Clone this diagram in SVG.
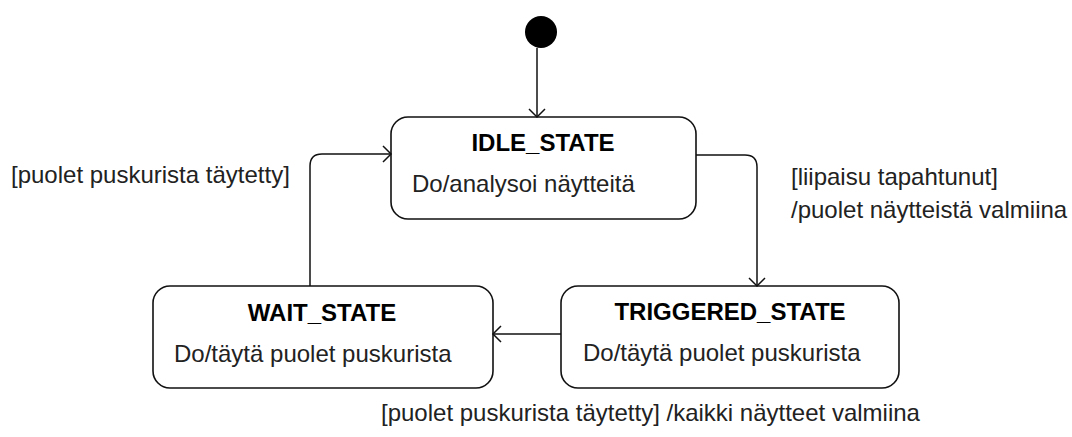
<svg xmlns="http://www.w3.org/2000/svg" width="1072" height="437" viewBox="0 0 1072 437">
  <style>
    .state { fill: #ffffff; stroke: #111111; stroke-width: 1.6; }
    .title { font-family: "Liberation Sans", Arial, sans-serif; font-size: 24px; font-weight: bold; fill: #000000; text-anchor: middle; }
    .body { font-family: "Liberation Sans", Arial, sans-serif; font-size: 24px; fill: #222222; }
    .label { font-family: "Liberation Sans", Arial, sans-serif; font-size: 24px; fill: #222222; }
    .edge { fill: none; stroke: #111111; stroke-width: 1.5; }
  </style>
  <defs>
    <marker id="open-arrow" markerWidth="12" markerHeight="18" refX="10" refY="9" orient="auto" markerUnits="userSpaceOnUse">
      <path d="M2,1 L10,9 L2,17" fill="none" stroke="#111111" stroke-width="1.5"/>
    </marker>
  </defs>

  <rect width="1072" height="437" fill="#ffffff"/>

  <!-- initial pseudo-state -->
  <g id="initial">
    <circle cx="541" cy="32" r="16" fill="#000000"/>
  </g>

  <g id="idle-state">
    <rect class="state" x="391" y="117" width="305" height="102" rx="17" ry="17"/>
    <text class="title" x="543" y="151">IDLE_STATE</text>
    <text class="body" x="412" y="192">Do/analysoi näytteitä</text>
  </g>

  <g id="wait-state">
    <rect class="state" x="153" y="286" width="340" height="102" rx="17" ry="17"/>
    <text class="title" x="322" y="321">WAIT_STATE</text>
    <text class="body" x="174" y="362">Do/täytä puolet puskurista</text>
  </g>

  <g id="triggered-state">
    <rect class="state" x="561" y="286" width="338" height="102" rx="17" ry="17"/>
    <text class="title" x="730" y="320">TRIGGERED_STATE</text>
    <text class="body" x="583" y="361">Do/täytä puolet puskurista</text>
  </g>

  <g id="connectors">
    <!-- start to IDLE_STATE -->
    <path class="edge" d="M537,48 L537,117" marker-end="url(#open-arrow)"/>
    <!-- IDLE_STATE to TRIGGERED_STATE -->
    <path class="edge" d="M696,155 L745,155 Q757,155 757,167 L757,286" marker-end="url(#open-arrow)"/>
    <!-- TRIGGERED_STATE to WAIT_STATE -->
    <path class="edge" d="M561,334 L493,334" marker-end="url(#open-arrow)"/>
    <!-- WAIT_STATE back to IDLE_STATE -->
    <path class="edge" d="M310,286 L310,166 Q310,154 322,154 L391,154" marker-end="url(#open-arrow)"/>
  </g>

  <g id="labels">
    <text class="label" x="11" y="183">[puolet puskurista täytetty]</text>
    <text class="label" x="791" y="185">[liipaisu tapahtunut]</text>
    <text class="label" x="791" y="218">/puolet näytteistä valmiina</text>
    <text class="label" x="381" y="421">[puolet puskurista täytetty] /kaikki näytteet valmiina</text>
  </g>
</svg>
